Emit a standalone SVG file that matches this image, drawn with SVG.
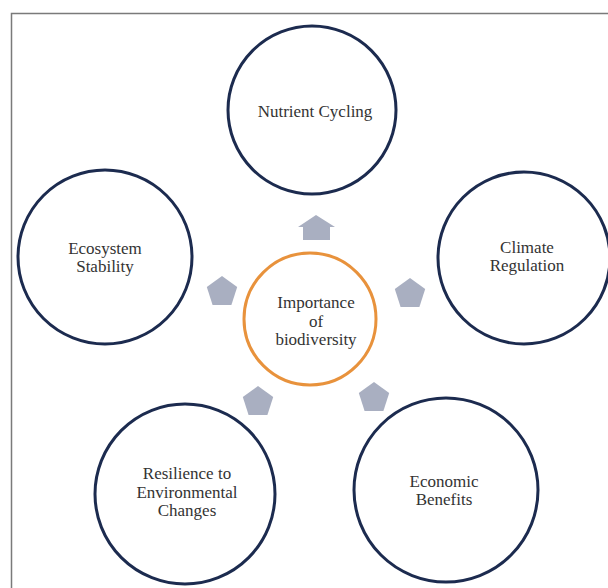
<svg xmlns="http://www.w3.org/2000/svg" width="608" height="588" viewBox="0 0 608 588">
  <defs>
    <style>
      .ring { fill: #ffffff; stroke: #1c2b4f; stroke-width: 3; }
      .hub { fill: #ffffff; stroke: #e8923c; stroke-width: 3; }
      .arrow { fill: #a9afc1; }
      .label { font-family: 'Liberation Serif', 'DejaVu Serif', serif; font-size: 17px; fill: #333333; text-anchor: middle; }
      .frame { stroke: #7a7a7a; stroke-width: 1.5; fill: none; }
    </style>
    <polygon id="penta" points="0,-16 15.2,-4.9 9.4,12.9 -9.4,12.9 -15.2,-4.9"/>
  </defs>
  <rect width="608" height="588" fill="#ffffff"/>
  <path class="frame" d="M11.5,588 V13.5 H608"/>

  <g id="connectors">
    <!-- upward arrow toward Nutrient Cycling -->
    <polygon class="arrow" points="316,215 335,227 330,227 330,240 303,240 303,227 298,227"/>
    <use href="#penta" class="arrow" transform="translate(222,292)"/>
    <use href="#penta" class="arrow" transform="translate(410,294)"/>
    <use href="#penta" class="arrow" transform="translate(258,402)"/>
    <use href="#penta" class="arrow" transform="translate(374,398)"/>
  </g>

  <g id="hub">
    <circle class="hub" cx="310" cy="319" r="66"/>
    <text class="label" font-family="Liberation Serif, serif" x="316" y="308">Importance</text>
    <text class="label" font-family="Liberation Serif, serif" x="316" y="327">of</text>
    <text class="label" font-family="Liberation Serif, serif" x="316" y="345">biodiversity</text>
  </g>

  <g id="nutrient-cycling">
    <circle class="ring" cx="312" cy="110" r="84"/>
    <text class="label" font-family="Liberation Serif, serif" x="315" y="117">Nutrient Cycling</text>
  </g>

  <g id="ecosystem-stability">
    <circle class="ring" cx="105" cy="257" r="87"/>
    <text class="label" font-family="Liberation Serif, serif" x="105" y="254">Ecosystem</text>
    <text class="label" font-family="Liberation Serif, serif" x="105" y="272">Stability</text>
  </g>

  <g id="climate-regulation">
    <circle class="ring" cx="524" cy="258" r="86"/>
    <text class="label" font-family="Liberation Serif, serif" x="527" y="253">Climate</text>
    <text class="label" font-family="Liberation Serif, serif" x="527" y="271">Regulation</text>
  </g>

  <g id="resilience">
    <circle class="ring" cx="185" cy="494" r="90"/>
    <text class="label" font-family="Liberation Serif, serif" x="187" y="479">Resilience to</text>
    <text class="label" font-family="Liberation Serif, serif" x="187" y="498">Environmental</text>
    <text class="label" font-family="Liberation Serif, serif" x="187" y="516">Changes</text>
  </g>

  <g id="economic-benefits">
    <circle class="ring" cx="446" cy="490" r="92"/>
    <text class="label" font-family="Liberation Serif, serif" x="444" y="487">Economic</text>
    <text class="label" font-family="Liberation Serif, serif" x="444" y="505">Benefits</text>
  </g>
</svg>
